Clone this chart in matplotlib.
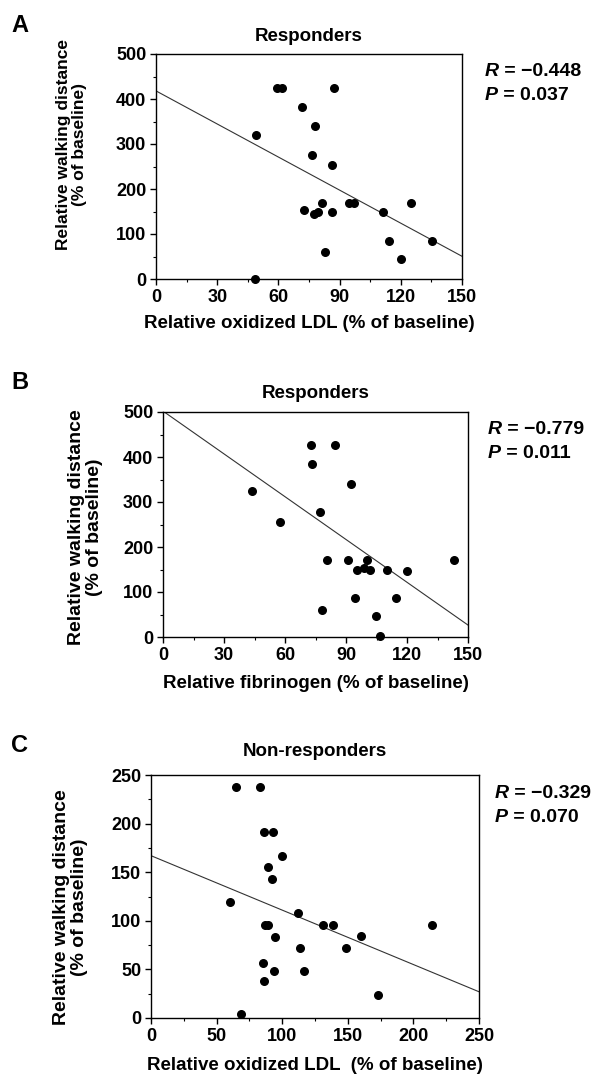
import matplotlib
matplotlib.use("Agg")
import matplotlib.pyplot as plt
import numpy as np
from matplotlib.ticker import MultipleLocator

plt.rcParams["font.family"] = ["Liberation Sans", "DejaVu Sans"]
plt.rcParams["font.weight"] = "bold"

# Panel A: responders, oxidized LDL
a_x = [48.5, 49, 59.5, 62, 71.4, 72.5, 76.5, 77.5, 78.1, 79.6, 81.4, 83, 86.3, 86.4, 87.1,
       94.8, 97, 111.1, 114.4, 120, 125.2, 135.3]
a_y = [0, 321, 425, 425, 383, 153, 275, 145, 340, 149, 170, 60, 149, 254, 425,
       170, 170, 149, 85, 44, 170, 85]
a_fit = [418, -2.45]  # intercept, slope
a_stats = ["\u22120.448", "0.037"]

# Panel B: responders, fibrinogen
b_x = [43.9, 57.4, 73.0, 73.4, 77.4, 78.4, 80.8, 84.4, 91.1, 92.6, 94.3, 95.4, 98.7,
       100.5, 101.6, 104.8, 106.9, 110, 114.4, 120.2, 143]
b_y = [324, 256, 427, 384, 278, 61, 171, 427, 171, 341, 87, 150, 154,
       172, 150, 46, 2, 150, 87, 147, 172]
b_fit = [502, -3.17]
b_stats = ["\u22120.779", "0.011"]

# Panel C: non-responders, oxidized LDL
c_x = [60.5, 65, 68.6, 82.9, 85, 86, 86.5, 87.2, 89, 89.5, 92.6, 93.1, 93.6, 94.4, 99.7,
       112.2, 113.5, 116.6, 131.4, 138.5, 148.7, 159.7, 173.2, 213.8]
c_y = [119, 238, 4.5, 238, 57, 191, 38, 96, 155, 96, 143, 191, 48, 83, 167,
       108, 72, 48, 96, 96, 72, 84, 24, 96]
c_fit = [167, -0.56]
c_stats = ["\u22120.329", "0.070"]

fig = plt.figure(figsize=(5.98, 10.84), dpi=100)
W, H = 598, 1084


def box(left, top, right, bottom):
    return [left / W, 1 - bottom / H, (right - left) / W, (bottom - top) / H]


def stat_line(x, y, name, value):
    # italic R / P, then the rest of the line right after it
    t = fig.text(x / W, 1 - y / H, name, fontsize=14, fontweight="bold",
                 style="italic", va="center")
    fig.add_artist(plt.Annotation(" = " + value, xy=(1, 0.5), xycoords=t,
                                  va="center", ha="left", fontsize=14,
                                  fontweight="bold", annotation_clip=False))


def draw_panel(rect, xs, ys, fit, xmax, xmajor, xminor, ymax, ymajor, yminor,
               title, title_y, xlabel, xlabel_y, ylabel_size, ylabel_xy,
               letter, letter_y, stats, stats_xy):
    ax = fig.add_axes(rect)
    ax.scatter(xs, ys, s=30, color="black", zorder=3, clip_on=False)
    lx = np.array([0, xmax])
    ax.plot(lx, fit[0] + fit[1] * lx, color="#333333", lw=0.8)
    ax.set_xlim(0, xmax)
    ax.set_ylim(0, ymax)
    ax.xaxis.set_major_locator(MultipleLocator(xmajor))
    ax.xaxis.set_minor_locator(MultipleLocator(xminor))
    ax.yaxis.set_major_locator(MultipleLocator(ymajor))
    ax.yaxis.set_minor_locator(MultipleLocator(yminor))
    ax.tick_params(which="major", length=4, width=1, labelsize=13, pad=3)
    ax.tick_params(which="minor", length=2, width=0.8)
    for lab in ax.get_xticklabels() + ax.get_yticklabels():
        lab.set_fontweight("bold")
    for sp in ax.spines.values():
        sp.set_linewidth(1)
    ax.text(0.5, title_y, title, transform=ax.transAxes, ha="center", va="center",
            fontsize=13.5, fontweight="bold")
    ax.set_xlabel(xlabel, fontsize=13.5, fontweight="bold")
    ax.xaxis.set_label_coords(0.5, xlabel_y)
    ax.xaxis.label.set_va("center")
    ax.set_ylabel("Relative walking distance\n(% of baseline)", fontsize=ylabel_size,
                  fontweight="bold", linespacing=1.05)
    ax.yaxis.set_label_coords(*ylabel_xy)
    fig.text(20 / W, 1 - letter_y / H, letter, fontsize=17, fontweight="bold",
             ha="center", va="center")
    stat_line(stats_xy[0], stats_xy[1], "R", stats[0])
    stat_line(stats_xy[0], stats_xy[1] + 24, "P", stats[1])
    return ax


draw_panel(box(156, 54, 462, 279), a_x, a_y, a_fit, 150, 30, 15, 500, 100, 50,
           "Responders", 1.0756, "Relative oxidized LDL (% of baseline)", -0.196,
           12.5, (-0.226, 0.6), "A", 26, a_stats, (485, 71))
draw_panel(box(163, 412, 468, 637), b_x, b_y, b_fit, 150, 30, 15, 500, 100, 50,
           "Responders", 1.0844, "Relative fibrinogen (% of baseline)", -0.205,
           14, (-0.197, 0.49), "B", 383, b_stats, (488, 429))
draw_panel(box(151, 775, 479, 1018), c_x, c_y, c_fit, 250, 50, 25, 250, 50, 25,
           "Non-responders", 1.0947, "Relative oxidized LDL  (% of baseline)", -0.195,
           14, (-0.192, 0.457), "C", 745, c_stats, (495, 793))

fig.savefig("out.png", dpi=100)
